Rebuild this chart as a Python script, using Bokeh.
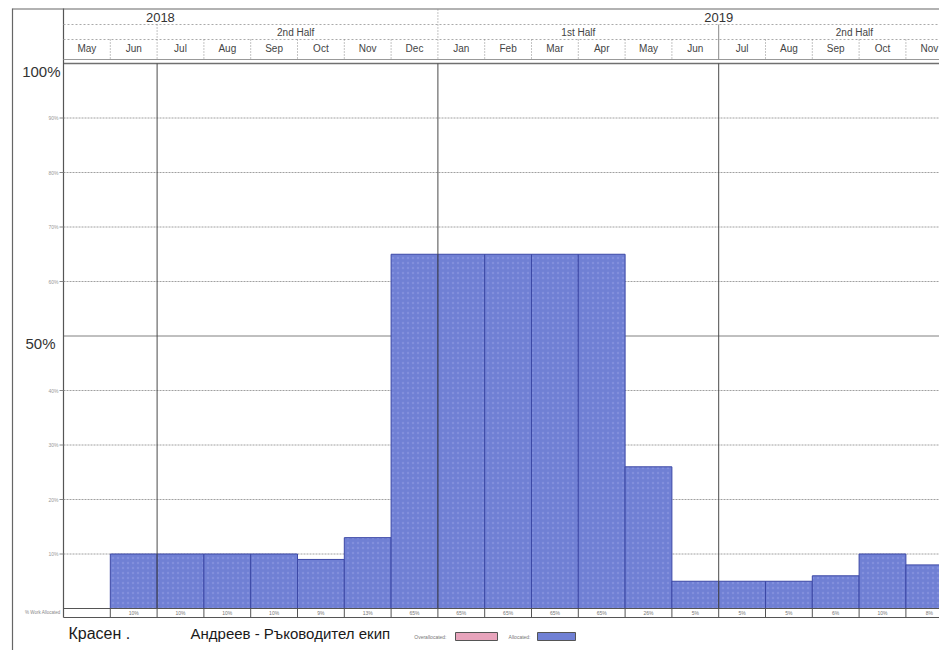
from bokeh.plotting import figure
from bokeh.models import Range1d, ColumnDataSource
from bokeh.core.properties import value
from bokeh.embed import file_html
from bokeh.resources import INLINE

# ---- data ----
months = ["May", "Jun", "Jul", "Aug", "Sep", "Oct", "Nov", "Dec",
          "Jan", "Feb", "Mar", "Apr", "May", "Jun", "Jul", "Aug", "Sep", "Oct", "Nov"]
allocated = [0, 10, 10, 10, 10, 9, 13, 65, 65, 65, 65, 65, 26, 5, 5, 5, 6, 10, 8]
years = ["2018", "2019"]
year_pos = [2.07, 14.0]
halves = ["2nd Half", "1st Half", "2nd Half"]
half_pos = [4.96, 11.0, 16.9]
half_bounds = [2, 8, 14]
year_bounds = [8]
minor_ticks = [10, 20, 30, 40, 60, 70, 80, 90]
major_ticks = [50, 100]
row_label = "% Work Allocated"
person_first = "Красен ."
person_rest = "Андреев - Ръководител екип"
legend_labels = ["Overallocated:", "Allocated:"]

FONT = value("Liberation Sans")
PX = 46.8     # px per month
PY = 5.45     # px per percent
X0, Y0 = 63, 608   # page px of month 0 / 0%

def dx(px):   # page x -> data
    return (px - X0) / PX

def dy(py):   # page y -> data
    return (Y0 - py) / PY

W, H = 939, 650
p = figure(width=W, height=H, output_backend="svg", toolbar_location=None,
           x_range=Range1d(dx(0), dx(W)), y_range=Range1d(dy(H), dy(0)),
           x_axis_type=None, y_axis_type=None, min_border=0)
p.outline_line_color = None
p.grid.visible = False
p.background_fill_color = "white"
p.border_fill_color = "white"

n = len(months)
xs = list(range(n))
right_edge = dx(W)

# gridlines
for t in minor_ticks:
    p.line([0, right_edge], [t, t], line_color="#a0a0a0", line_width=1, line_dash="2 1")
p.line([0, right_edge], [50, 50], line_color="#808080", line_width=1)
p.line([0, right_edge], [100, 100], line_color="#707070", line_width=1.5)

# bars
src = ColumnDataSource(dict(left=xs, right=[x + 1 for x in xs], top=allocated,
                            bottom=[0] * n))
p.quad(left="left", right="right", top="top", bottom="bottom", source=src,
       fill_color="#7080d4", line_color="#3c48a6", line_width=1,
       hatch_pattern="dot", hatch_color="#a3acea", hatch_alpha=0.35, hatch_scale=5)

# vertical separators in plot area
for b in half_bounds:
    p.line([b, b], [0, 100], line_color="#4a4a4a", line_width=1)

# plot frame left border + outer left frame
p.line([0, 0], [dy(8), dy(617)], line_color="#555555", line_width=1.2)
p.line([dx(12), dx(12)], [dy(8), dy(H)], line_color="#666666", line_width=1.2)
p.line([dx(12), right_edge], [dy(8.5), dy(8.5)], line_color="#666666", line_width=1.2)

# header rows
p.line([0, right_edge], [dy(24), dy(24)], line_color="#aaaaaa", line_width=1, line_dash="2 2")
p.line([0, right_edge], [dy(39), dy(39)], line_color="#aaaaaa", line_width=1, line_dash="2 2")
p.line([0, right_edge], [dy(59), dy(59)], line_color="#999999", line_width=1)
for i in range(1, n + 1):
    top = dy(39)
    if i in half_bounds:
        top = dy(24)
    if i in year_bounds:
        top = dy(9)
    dash = "solid" if i == 14 else "1 2"
    p.line([i, i], [top, dy(59)], line_color="#888888", line_width=1, line_dash=dash)

p.text(x=[i + 0.5 for i in xs], y=[dy(48)] * n, text=months, text_font=FONT,
       text_font_size="10px", text_align="center", text_baseline="middle",
       text_color="#444444")
p.text(x=half_pos, y=[dy(32)] * len(halves), text=halves, text_font=FONT,
       text_font_size="10px", text_align="center", text_baseline="middle",
       text_color="#444444")
p.text(x=year_pos, y=[dy(17)] * len(years), text=years, text_font=FONT,
       text_font_size="13px", text_align="center", text_baseline="middle",
       text_color="#333333")

# y labels
p.text(x=[dx(58)] * len(minor_ticks), y=minor_ticks, text=[f"{t}%" for t in minor_ticks],
       text_font=FONT, text_font_size="5px", text_align="right", text_baseline="middle",
       text_color="#999999")
for t in minor_ticks:
    p.line([dx(59), 0], [t, t], line_color="#888888", line_width=1)
p.text(x=[dx(60), dx(55)], y=[dy(71), dy(343)],
       text=[f"{t}%" for t in major_ticks[::-1]], text_font=FONT,
       text_font_size="15px", text_align="right", text_baseline="middle",
       text_color="#333333")

# bottom value row
p.line([0, right_edge], [0, 0], line_color="#555555", line_width=1)
p.line([0, right_edge], [dy(617), dy(617)], line_color="#555555", line_width=1.2)
for i in range(1, n + 1):
    p.line([i, i], [0, dy(617)], line_color="#555555", line_width=1)
p.text(x=[i + 0.5 for i in xs], y=[dy(612.5)] * n,
       text=[f"{v}%" if v else "" for v in allocated], text_font=FONT,
       text_font_size="5px", text_align="center", text_baseline="middle",
       text_color="#777777")
p.text(x=[dx(60)], y=[dy(612)], text=[row_label], text_font=FONT,
       text_font_size="4.5px", text_align="right", text_baseline="middle",
       text_color="#888888")

# person name
p.text(x=[dx(68)], y=[dy(633)], text=[person_first], text_font=FONT,
       text_font_size="16px", text_align="left", text_baseline="middle",
       text_color="#1a1a1a")
p.text(x=[dx(190)], y=[dy(633)], text=[person_rest], text_font=FONT,
       text_font_size="15px", text_align="left", text_baseline="middle",
       text_color="#1a1a1a")

# legend
p.text(x=[dx(446), dx(530)], y=[dy(636)] * 2, text=legend_labels, text_font=FONT,
       text_font_size="5px", text_align="right", text_baseline="middle",
       text_color="#777777")
p.quad(left=[dx(455), dx(537)], right=[dx(497), dx(575)],
       top=[dy(632), dy(632)], bottom=[dy(640), dy(640)],
       fill_color=["#e8a4bc", "#7080d4"], line_color="#555555", line_width=1)

open("out.html", "w").write(file_html(p, INLINE))
